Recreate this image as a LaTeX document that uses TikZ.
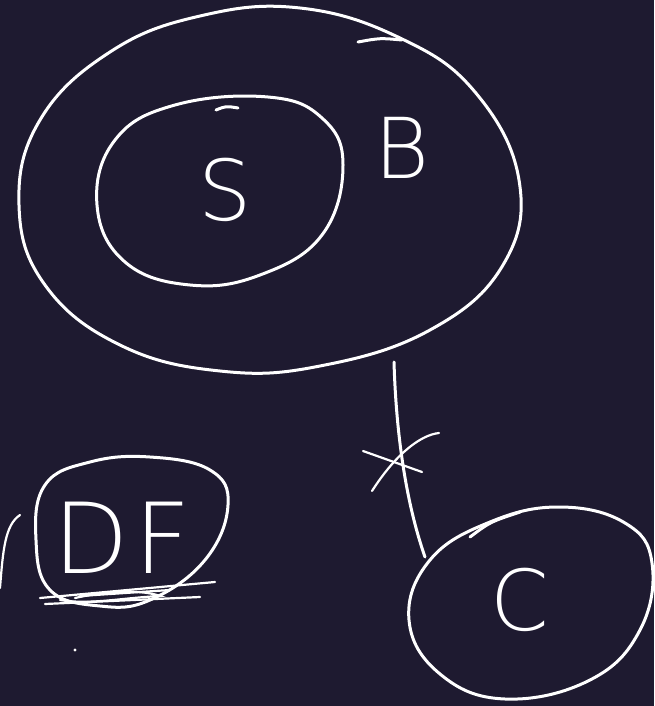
\documentclass[tikz,border=0pt]{standalone}
\usepackage{fontspec}
\newfontfamily\handfont{DejaVu Sans}[UprightFont={* ExtraLight}]
\usetikzlibrary{calc}
\definecolor{bg}{HTML}{1E1A30}
\begin{document}
\begin{tikzpicture}[x=1pt,y=-1pt,
  ink/.style={draw=white,line width=3pt,line cap=round,line join=round},
  thin ink/.style={draw=white,line width=2.2pt,line cap=round},
  letter/.style={text=white,font=\handfont\fontsize{84}{84}\selectfont,inner sep=0pt}]
\fill[bg] (0,0) rectangle (654,706);
\useasboundingbox (0,0) rectangle (654,706);
% big ellipse B
\draw[ink] plot[smooth cycle,tension=0.7] coordinates {(300,8) (400,38) (475,92) (519,180) (503,265) (430,330) (320,366) (220,371) (120,345) (45,285) (19,205) (40,120) (110,52) (200,16)};
\draw[ink] (358,42) .. controls (380,38) .. (402,40);
% inner ellipse S
\draw[ink] plot[smooth cycle,tension=0.7] coordinates {(268,97) (322,118) (343,165) (322,235) (260,275) (190,285) (125,262) (97,205) (115,140) (175,105)};
\draw[ink] (216,110) .. controls (226,106) .. (238,108);
\node[letter] (S) at (225,190) {S};
\node[letter] (B) at (402,148) {B};
% C ellipse
\coordinate (cTop) at (425,557);
\draw[ink] plot[smooth cycle,tension=0.7] coordinates {(560,507) (625,523) (652,563) (640,630) (590,680) (505,699) (440,674) (409,620) (430,560) (490,522)};
\draw[ink] (470,537) .. controls (490,522) .. (520,512);
\node[letter] (C) at (520,600) {C};
% connector B -- C with cross
\coordinate (bBot) at (394,362);
\draw[ink] (bBot) .. controls (396,430) and (405,500) .. (cTop);
\draw[thin ink] (363,451) -- (422,472);
\draw[thin ink] (372,491) .. controls (395,455) and (420,435) .. (439,433);
% DF ellipse
\draw[ink] plot[smooth cycle,tension=0.7] coordinates {(150,457) (210,470) (228,505) (205,560) (150,600) (100,606) (50,590) (36,540) (45,485) (90,462)};
\node[letter,font=\handfont\fontsize{98}{98}\selectfont] (DF) at (122,538) {D\kern6pt F};
% scribble underline
\draw[thin ink] (40,598) -- (215,582);
\draw[thin ink] (45,604) -- (200,597);
\draw[thin ink] (75,598) .. controls (120,588) and (150,592) .. (160,596) .. controls (120,598) and (90,605) .. (60,600);
\draw[thin ink] (80,596) -- (170,590);
% fragment at left edge
\draw[thin ink] (0,588) .. controls (3,550) and (5,525) .. (20,515);
% dot
\fill[white] (75,650) circle (1.6);
\end{tikzpicture}
\end{document}
